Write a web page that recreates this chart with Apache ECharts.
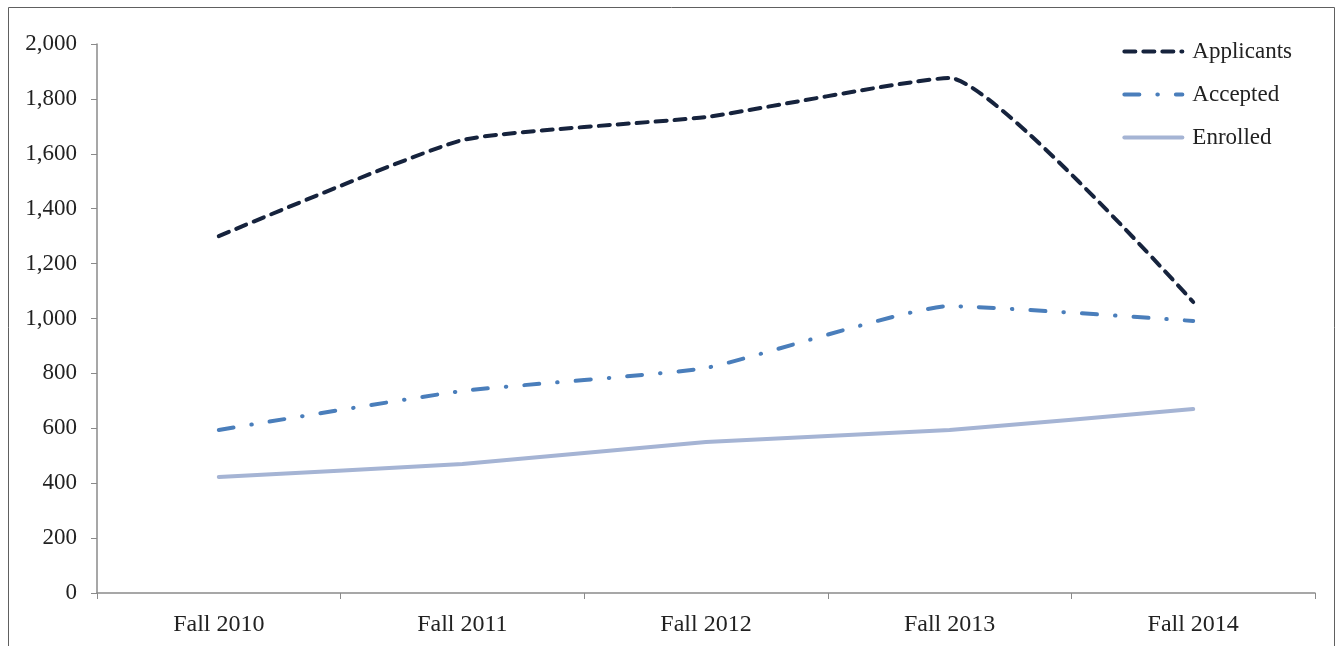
<!DOCTYPE html>
<html><head><meta charset="utf-8">
<script src="https://cdn.jsdelivr.net/npm/echarts@6/dist/echarts.min.js"></script>
<style>html,body{margin:0;padding:0;background:#fff}#c{width:1337px;height:646px}</style>
</head><body><div id="c"></div>
<script>
const categories = ['Fall 2010', 'Fall 2011', 'Fall 2012', 'Fall 2013', 'Fall 2014'];
const applicants = [1300, 1650, 1734, 1876, 1060];
const accepted = [594, 736, 820, 1045, 991];
const enrolled = [423, 470, 550, 594, 670];

const chart = echarts.init(document.getElementById('c'));
const font = 'Liberation Serif';
chart.setOption({
  animation: false,
  backgroundColor: '#fff',
  textStyle: { fontFamily: font },
  graphic: [{ type: 'rect', shape: { x: 8.5, y: 7.5, width: 1326, height: 660 }, style: { fill: 'none', stroke: '#606060', lineWidth: 1 }, silent: true }],
  grid: { left: 97, right: 22, top: 44, bottom: 53 },
  legend: {
    orient: 'vertical', right: 40, top: 35, itemWidth: 58, itemHeight: 10, itemGap: 20,
    textStyle: { fontFamily: font, fontSize: 23, color: '#222', padding: [0, 0, 0, 5] },
    itemStyle: { opacity: 0 },
    lineStyle: { width: 4, cap: 'round' },
    data: ['Applicants', 'Accepted', 'Enrolled']
  },
  xAxis: {
    type: 'category', data: categories, boundaryGap: true,
    axisLine: { lineStyle: { color: '#8a8a8a', width: 1.5 } },
    axisTick: { show: true, length: 6, lineStyle: { color: '#8a8a8a' } },
    axisLabel: { fontFamily: font, fontSize: 24, color: '#222', margin: 20 }
  },
  yAxis: {
    type: 'value', min: 0, max: 2000, interval: 200,
    splitLine: { show: false },
    axisLine: { show: true, lineStyle: { color: '#8a8a8a', width: 1.5 } },
    axisTick: { show: true, length: 6, lineStyle: { color: '#8a8a8a' } },
    axisLabel: { fontFamily: font, fontSize: 23, color: '#222', margin: 20,
      formatter: v => v.toLocaleString('en-US') }
  },
  series: [
    { name: 'Applicants', type: 'line', data: applicants, symbol: 'none', smooth: 0.15,
      lineStyle: { color: '#16233d', width: 4, type: [11, 8], cap: 'round' }, itemStyle: { color: '#16233d' } },
    { name: 'Accepted', type: 'line', data: accepted, symbol: 'none', smooth: 0.15,
      lineStyle: { color: '#4a7ebb', width: 4, type: [15, 18, 0.5, 18], cap: 'round' }, itemStyle: { color: '#4a7ebb' } },
    { name: 'Enrolled', type: 'line', data: enrolled, symbol: 'none', smooth: 0.15,
      lineStyle: { color: '#a5b4d4', width: 4, cap: 'round' }, itemStyle: { color: '#a5b4d4' } }
  ]
});
</script></body></html>
